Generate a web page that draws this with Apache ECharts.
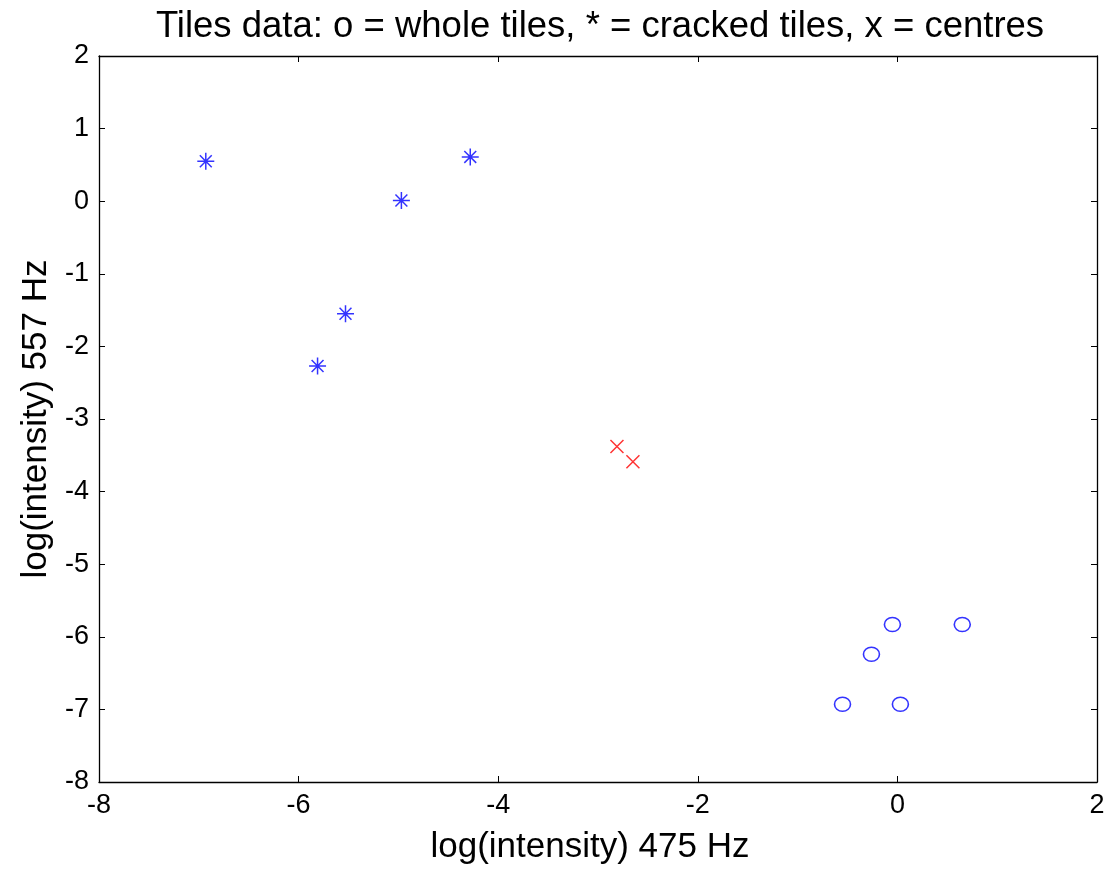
<!DOCTYPE html>
<html><head><meta charset="utf-8">
<script src="https://cdn.jsdelivr.net/npm/echarts@6/dist/echarts.min.js"></script>
<style>html,body{margin:0;padding:0;background:#fff}#c{width:1109px;height:870px}</style>
</head><body><div id="c"></div>
<script>
const titleText = 'Tiles data: o = whole tiles, * = cracked tiles, x = centres';
const xName = 'log(intensity) 475 Hz';
const yName = 'log(intensity) 557 Hz';
const crackedX = [-6.93, -4.28, -4.97, -5.53, -5.81];
const crackedY = [0.55, 0.61, 0.01, -1.55, -2.27];
const centresX = [-2.81, -2.65];
const centresY = [-3.38, -3.59];
const wholeX = [-0.05, 0.65, -0.26, -0.55, 0.03];
const wholeY = [-5.83, -5.83, -6.24, -6.93, -6.93];

const zip = (a, b) => a.map((v, i) => [v, b[i]]);
const font = 'Liberation Sans, Arial, sans-serif';
const starPath = 'path://M0,-10L0,10M-10,0L10,0M-7,-7L7,7M-7,7L7,-7';
const crossPath = 'path://M-10,-10L10,10M-10,10L10,-10';
const axisBase = {
  axisLine: {show: true, onZero: false, lineStyle: {color: '#000', width: 1.3}},
  axisTick: {show: true, inside: true, length: 6, lineStyle: {color: '#000'}},
  splitLine: {show: false}
};
const labelStyle = {color: '#000', fontSize: 27, fontFamily: font, margin: 10};
const chart = echarts.init(document.getElementById('c'));
chart.setOption({
  animation: false,
  backgroundColor: '#fff',
  title: {text: titleText, left: 595, textAlign: 'center', top: 3,
    textStyle: {fontSize: 36.5, fontWeight: 'normal', color: '#000', fontFamily: font}},
  grid: {left: 99, right: 12, top: 56, bottom: 88, containLabel: false},
  xAxis: [
    Object.assign({}, axisBase, {type: 'value', position: 'bottom', min: -8, max: 2, interval: 2,
      name: xName, nameLocation: 'middle', nameGap: 48,
      nameTextStyle: {fontSize: 35, color: '#000', fontFamily: font, padding: [0, 16, 0, 0]},
      axisLabel: labelStyle}),
    Object.assign({}, axisBase, {type: 'value', position: 'top', min: -8, max: 2, interval: 2,
      axisLabel: {show: false}})
  ],
  yAxis: [
    Object.assign({}, axisBase, {type: 'value', position: 'left', min: -8, max: 2, interval: 1,
      name: yName, nameLocation: 'middle', nameGap: 38,
      nameTextStyle: {fontSize: 35, color: '#000', fontFamily: font},
      axisLabel: labelStyle}),
    Object.assign({}, axisBase, {type: 'value', position: 'right', min: -8, max: 2, interval: 1,
      axisLabel: {show: false}})
  ],
  series: [
    {type: 'scatter', data: zip(crackedX, crackedY), symbol: starPath, symbolSize: 17,
      itemStyle: {color: 'none', borderColor: '#0000ff', borderWidth: 1.5}},
    {type: 'scatter', data: zip(centresX, centresY), symbol: crossPath, symbolSize: 13,
      itemStyle: {color: 'none', borderColor: '#ff0000', borderWidth: 1.5}},
    {type: 'scatter', data: zip(wholeX, wholeY), symbol: 'circle', symbolSize: [16, 14],
      itemStyle: {color: 'none', borderColor: '#0000ff', borderWidth: 1.5}}
  ]
});
</script></body></html>
